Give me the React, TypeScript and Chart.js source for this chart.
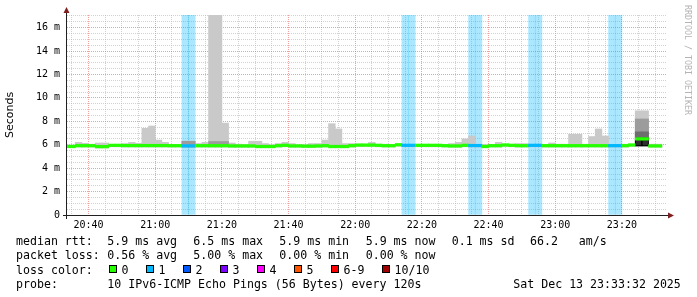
import React, { useEffect, useRef } from 'react';
import { Chart, registerables } from 'chart.js';

Chart.register(...registerables);

// ---- data (2-minute buckets, first bucket starts 20:32) ----
const BUCKET_START_MIN = 32; // minutes after 20:00
const BUCKET_LEN_MIN = 2;

const medianRtt = [
  5.85, 5.85, 5.92, 5.92, 5.92, 5.84, 5.84, 5.95, 5.95, 5.93,
  5.93, 5.93, 5.93, 5.93, 5.93, 5.93, 5.92, 5.92, 5.9, 5.9,
  5.92, 5.92, 5.92, 5.92, 5.92, 5.9, 5.9, 5.9, 5.9, 5.85,
  5.85, 5.85, 5.92, 5.95, 5.9, 5.9, 5.88, 5.88, 5.9, 5.92,
  5.85, 5.85, 5.85, 5.92, 5.97, 5.97, 5.97, 5.95, 5.92, 5.92,
  6.0, 5.95, 5.95, 5.95, 5.95, 5.95, 5.95, 5.92, 5.9, 5.9,
  5.95, 5.93, 5.93, 5.85, 5.92, 5.92, 5.98, 5.95, 5.92, 5.92,
  5.95, 5.95, 5.92, 5.92, 5.92, 5.92, 5.92, 5.92, 5.92, 5.92,
  5.92, 5.92, 5.92, 5.92, 5.92, 5.98, 6.5, 6.5, 5.9, 5.9,
];

const lostPings = [
  0, 0, 0, 0, 0, 0, 0, 0, 0, 0,
  0, 0, 0, 0, 0, 0, 0, 0, 1, 1,
  0, 0, 0, 0, 0, 0, 0, 0, 0, 0,
  0, 0, 0, 0, 0, 0, 0, 0, 0, 0,
  0, 0, 0, 0, 0, 0, 0, 0, 0, 0,
  0, 1, 1, 0, 0, 0, 0, 0, 0, 0,
  0, 1, 1, 0, 0, 0, 0, 0, 0, 0,
  1, 1, 0, 0, 0, 0, 0, 0, 0, 0,
  0, 0, 1, 1, 0, 0, 0, 0, 0, 0,
];

const smokeMax = [
  5.98, 5.98, 6.2, 6.12, 6.05, 6.15, 6.15, 6.02, 6.02, 6.1,
  6.2, 6.12, 7.4, 7.6, 6.4, 6.2, 6.02, 6.02, 6.3, 6.3,
  6.1, 6.2, 17.5, 17.5, 7.85, 6.15, 6.05, 6.02, 6.3, 6.3,
  6.1, 6.0, 6.1, 6.2, 6.1, 6.0, 6.0, 6.1, 6.1, 6.4,
  7.8, 7.35, 6.1, 6.1, 6.05, 6.05, 6.2, 6.05, 6.05, 6.0,
  6.05, 6.02, 6.02, 6.02, 6.02, 6.02, 6.02, 6.02, 6.1, 6.2,
  6.5, 6.75, 6.02, 6.02, 6.02, 6.2, 6.05, 6.05, 6.1, 6.1,
  6.02, 6.02, 6.02, 6.15, 6.05, 6.05, 6.9, 6.9, 6.05, 6.7,
  7.35, 6.75, 6.02, 6.02, 6.05, 6.05, 8.9, 8.9, 6.05, 6.05,
];

const smokeMin = [
  5.75, 5.75, 5.8, 5.8, 5.8, 5.72, 5.72, 5.82, 5.82, 5.8,
  5.8, 5.8, 5.8, 5.8, 5.8, 5.8, 5.8, 5.8, 5.78, 5.78,
  5.8, 5.8, 5.8, 5.8, 5.8, 5.78, 5.78, 5.78, 5.78, 5.74,
  5.74, 5.74, 5.8, 5.82, 5.78, 5.78, 5.76, 5.76, 5.78, 5.8,
  5.74, 5.74, 5.74, 5.8, 5.85, 5.85, 5.85, 5.82, 5.8, 5.8,
  5.88, 5.82, 5.82, 5.82, 5.82, 5.82, 5.82, 5.8, 5.78, 5.78,
  5.82, 5.8, 5.8, 5.74, 5.8, 5.8, 5.86, 5.82, 5.8, 5.8,
  5.82, 5.82, 5.8, 5.8, 5.8, 5.8, 5.8, 5.8, 5.8, 5.8,
  5.8, 5.8, 5.8, 5.8, 5.8, 5.86, 5.85, 5.85, 5.78, 5.78,
];

const N = null;
// inner smoke shades (darker), null where the pings coincide with the median
const smoke2Max = [
  N, N, N, N, N, N, N, N, N, N,
  N, N, N, N, N, N, N, N, 6.3, 6.3,
  N, N, 6.28, 6.28, 6.28, N, N, N, N, N,
  N, N, N, N, N, N, N, N, N, N,
  N, N, N, N, N, N, N, N, N, N,
  N, N, N, N, N, N, N, N, N, N,
  N, N, N, N, N, N, N, N, N, N,
  N, N, N, N, N, N, N, N, N, N,
  N, N, N, N, N, N, 8.2, 8.2, N, N,
];
const smoke3Max = [
  N, N, N, N, N, N, N, N, N, N,
  N, N, N, N, N, N, N, N, N, N,
  N, N, N, N, N, N, N, N, N, N,
  N, N, N, N, N, N, N, N, N, N,
  N, N, N, N, N, N, N, N, N, N,
  N, N, N, N, N, N, N, N, N, N,
  N, N, N, N, N, N, N, N, N, N,
  N, N, N, N, N, N, N, N, N, N,
  N, N, N, N, N, N, 7.1, 7.1, N, N,
];
const smoke4Max = [
  N, N, N, N, N, N, N, N, N, N,
  N, N, N, N, N, N, N, N, N, N,
  N, N, N, N, N, N, N, N, N, N,
  N, N, N, N, N, N, N, N, N, N,
  N, N, N, N, N, N, N, N, N, N,
  N, N, N, N, N, N, N, N, N, N,
  N, N, N, N, N, N, N, N, N, N,
  N, N, N, N, N, N, N, N, N, N,
  N, N, N, N, N, N, 6.6, 6.6, N, N,
];
const smoke4Min = 5.9;

// axis ticks
const timeTickMinutes = [40, 60, 80, 100, 120, 140, 160, 180, 200];
const timeTickLabels = ['20:40', '21:00', '21:20', '21:40', '22:00', '22:20', '22:40', '23:00', '23:20'];
const rttTickValues = [0, 2, 4, 6, 8, 10, 12, 14, 16];
const rttTickLabels = ['0', '2 m', '4 m', '6 m', '8 m', '10 m', '12 m', '14 m', '16 m'];

// legend texts
const rttStats = ['5.9 ms avg', '6.5 ms max', '5.9 ms min', '5.9 ms now', '0.1 ms sd', '66.2   am/s'];
const lossStats = ['0.56 % avg', '5.00 % max', '0.00 % min', '0.00 % now'];
const lossLegendLabels = ['0', '1', '2', '3', '4', '5', '6-9', '10/10'];
const lossLegendColors = ['#26ff00', '#00b8ff', '#0059ff', '#7e00ff', '#ff00ff', '#ff5500', '#ff0000', '#a10000'];
const probeText = '10 IPv6-ICMP Echo Pings (56 Bytes) every 120s';
const dateText = 'Sat Dec 13 23:33:32 2025';

// ---- view constants ----
const X_MIN = 33 + 32 / 60; // 20:33:32
const X_MAX = X_MIN + 180;
const Y_MAX = 17.08;
const MEDIAN_HALF = 0.11;
const GRID = 'rgba(180,180,180,0.6)';
const MGRID = 'rgba(230,80,80,0.55)';
const MONO = '"DejaVu Sans Mono", monospace';

const bucketX = medianRtt.map((_, j) => BUCKET_START_MIN + BUCKET_LEN_MIN * j + BUCKET_LEN_MIN / 2);
const lossColorOf = (n: number) => lossLegendColors[Math.min(n, 7)];

const axesPlugin = {
  id: 'rrdAxes',
  afterDraw(chart: any) {
    const { ctx, chartArea } = chart;
    const x0 = chartArea.left - 0.5;
    const y0 = chartArea.bottom + 0.5;
    ctx.save();
    ctx.strokeStyle = '#202020';
    ctx.lineWidth = 1;
    ctx.beginPath();
    ctx.moveTo(chartArea.left - 4, y0);
    ctx.lineTo(chartArea.right + 2, y0);
    ctx.moveTo(x0, chartArea.bottom + 4);
    ctx.lineTo(x0, chartArea.top - 5);
    ctx.stroke();
    ctx.fillStyle = '#801f1f';
    ctx.beginPath();
    ctx.moveTo(x0, chartArea.top - 8);
    ctx.lineTo(x0 - 3, chartArea.top - 2);
    ctx.lineTo(x0 + 3, chartArea.top - 2);
    ctx.closePath();
    ctx.fill();
    ctx.beginPath();
    ctx.moveTo(chartArea.right + 7, y0);
    ctx.lineTo(chartArea.right + 1, y0 - 3);
    ctx.lineTo(chartArea.right + 1, y0 + 3);
    ctx.closePath();
    ctx.fill();
    ctx.restore();
  },
};

export default function App() {
  const ref = useRef<HTMLCanvasElement>(null);

  useEffect(() => {
    const canvas = ref.current;
    if (!canvas) return;
    const floating = (hi: (number | null)[], lo: (j: number) => number) =>
      hi.map((v, j) => ({ x: bucketX[j], y: v == null ? null : [lo(j), v] }));

    const datasets: any[] = [
      {
        label: 'median',
        data: medianRtt.map((m, j) => ({ x: bucketX[j], y: [m - MEDIAN_HALF, m + MEDIAN_HALF] })),
        backgroundColor: lostPings.map((n) => lossColorOf(n)),
      },
      {
        label: 'smoke4',
        data: floating(smoke4Max, () => smoke4Min),
        backgroundColor: '#2e2e2e',
        borderColor: '#000000',
        borderWidth: 1,
        borderSkipped: false,
      },
      { label: 'smoke3', data: floating(smoke3Max, (j) => smokeMin[j] + 0.05), backgroundColor: '#6e6e6e' },
      { label: 'smoke2', data: floating(smoke2Max, (j) => smokeMin[j] + 0.03), backgroundColor: '#9c9c9c' },
      { label: 'smoke', data: floating(smokeMax, (j) => smokeMin[j]), backgroundColor: '#c9c9c9' },
      {
        label: 'loss',
        data: lostPings.map((n, j) => ({ x: bucketX[j], y: n > 0 ? [0, Y_MAX + 1] : null })),
        backgroundColor: 'rgba(0,184,255,0.33)',
      },
    ];

    const gridMinutes: number[] = [];
    for (let m = 35; m <= 210; m += 5) gridMinutes.push(m);
    const gridValues: number[] = [];
    for (let v = 0; v <= 17; v += 0.5) gridValues.push(v);

    const chart = new Chart(canvas, {
      type: 'bar',
      data: { datasets },
      options: {
        responsive: false,
        animation: false,
        devicePixelRatio: 1,
        layout: { padding: { left: 0, right: 30, top: 15, bottom: 0 } },
        plugins: { legend: { display: false }, tooltip: { enabled: false }, title: { display: false } },
        datasets: {
          bar: { grouped: false, barPercentage: 1, categoryPercentage: 1, borderWidth: 0 },
        },
        scales: {
          x: {
            type: 'linear',
            min: X_MIN,
            max: X_MAX,
            offset: false,
            z: 1,
            afterBuildTicks: (s: any) => {
              s.ticks = gridMinutes.map((v) => ({ value: v }));
            },
            afterFit: (s: any) => {
              s.height = 82;
            },
            grid: {
              offset: false,
              drawTicks: false,
              lineWidth: 1,
              color: (c: any) => (c.tick && timeTickMinutes.includes(c.tick.value) ? MGRID : GRID),
            },
            border: { display: false, dash: [1, 1] },
            ticks: {
              autoSkip: false,
              maxRotation: 0,
              minRotation: 0,
              padding: 4,
              color: '#000000',
              font: { family: MONO, size: 10 },
              callback: (v: any) => {
                const i = timeTickMinutes.indexOf(Number(v));
                return i >= 0 ? timeTickLabels[i] : '';
              },
            },
          },
          y: {
            type: 'linear',
            min: 0,
            max: Y_MAX,
            z: 1,
            afterBuildTicks: (s: any) => {
              s.ticks = gridValues.map((v) => ({ value: v }));
            },
            afterFit: (s: any) => {
              s.width = 67;
            },
            grid: {
              drawTicks: false,
              lineWidth: 1,
              color: (c: any) => (c.tick && rttTickValues.includes(c.tick.value) ? MGRID : GRID),
            },
            border: { display: false, dash: [1, 1] },
            title: {
              display: true,
              text: 'Seconds',
              color: '#000000',
              font: { family: '"DejaVu Sans", sans-serif', size: 11 },
              padding: { top: 4, bottom: 4 },
            },
            ticks: {
              autoSkip: false,
              padding: 7,
              color: '#000000',
              font: { family: MONO, size: 10 },
              callback: (v: any) => {
                const i = rttTickValues.indexOf(Number(v));
                return i >= 0 ? rttTickLabels[i] : '';
              },
            },
          },
        },
      } as any,
      plugins: [axesPlugin],
    });
    return () => chart.destroy();
  }, []);

  const textBase: React.CSSProperties = {
    position: 'absolute',
    font: `11.6px ${MONO}`,
    lineHeight: '14px',
    whiteSpace: 'pre',
    color: '#000',
    margin: 0,
  };
  const lineTops = [234, 248.3, 262.6, 276.9];
  const statX = [107.3, 193.3, 279.3, 365.7, 451.7, 530];
  const swatchX = [108.5, 145.5, 182.5, 219.5, 256.5, 293.5, 330.5, 381.5];

  return (
    <div style={{ position: 'absolute', left: 0, top: 0, width: 697, height: 297, background: '#fff', overflow: 'hidden' }}>
      <canvas ref={ref} width={697} height={297} style={{ position: 'absolute', left: 0, top: 0, width: 697, height: 297, display: 'block' }} />
      <div style={{ ...textBase, left: 16, top: lineTops[0] }}>median rtt:</div>
      {rttStats.map((t, i) => (
        <div key={'r' + i} style={{ ...textBase, left: statX[i], top: lineTops[0] }}>{t}</div>
      ))}
      <div style={{ ...textBase, left: 16, top: lineTops[1] }}>packet loss:</div>
      {lossStats.map((t, i) => (
        <div key={'l' + i} style={{ ...textBase, left: statX[i], top: lineTops[1] }}>{t}</div>
      ))}
      <div style={{ ...textBase, left: 16, top: lineTops[2] }}>loss color:</div>
      {lossLegendLabels.map((t, i) => (
        <React.Fragment key={'c' + i}>
          <div
            style={{
              position: 'absolute',
              left: swatchX[i],
              top: 264.5,
              width: 6,
              height: 6,
              border: '1px solid #000',
              background: lossLegendColors[i],
            }}
          />
          <div style={{ ...textBase, left: swatchX[i] + 13, top: lineTops[2] }}>{t}</div>
        </React.Fragment>
      ))}
      <div style={{ ...textBase, left: 16, top: lineTops[3] }}>probe:</div>
      <div style={{ ...textBase, left: 107.3, top: lineTops[3] }}>{probeText}</div>
      <div style={{ ...textBase, left: 513.3, top: lineTops[3] }}>{dateText}</div>
      <div
        style={{
          position: 'absolute',
          left: 682.5,
          top: 5,
          width: 10,
          writingMode: 'vertical-rl',
          font: `8.3px ${MONO}`,
          lineHeight: '10px',
          whiteSpace: 'pre',
          color: '#b4b4b4',
        }}
      >
        RRDTOOL / TOBI OETIKER
      </div>
    </div>
  );
}
